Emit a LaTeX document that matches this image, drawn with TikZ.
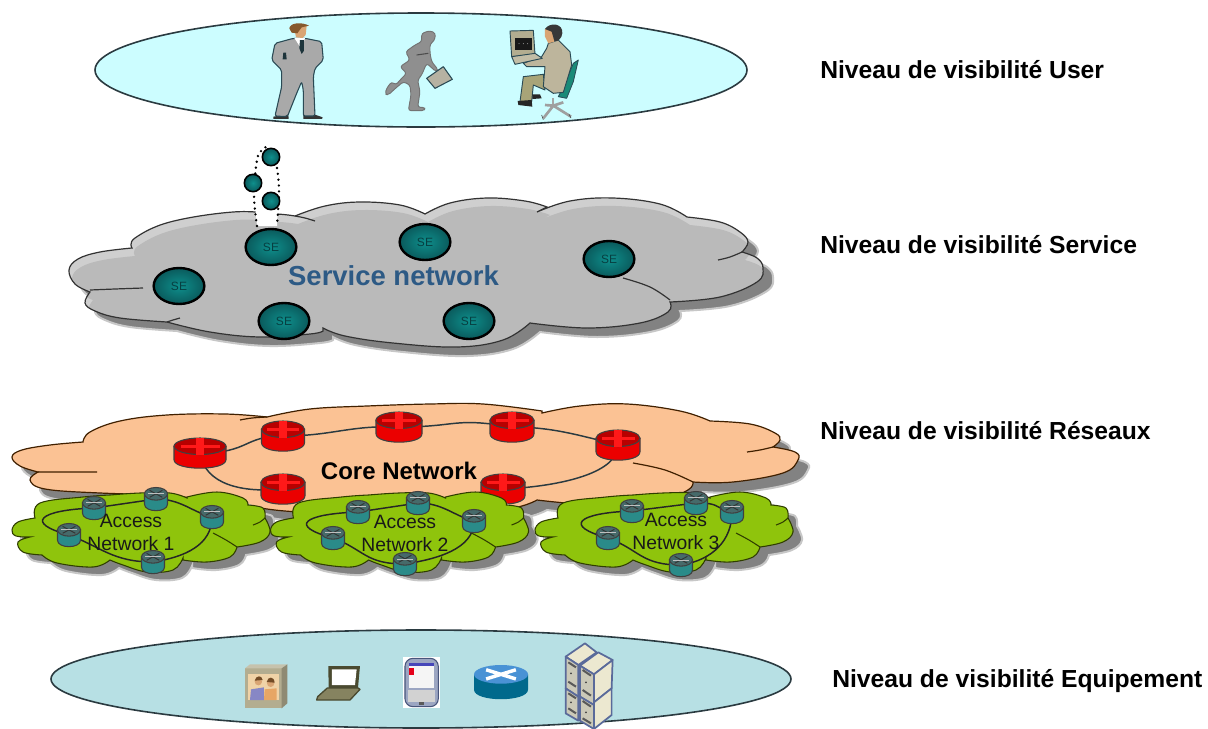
\documentclass[tikz,border=0pt]{standalone}
\usepackage{fontspec}
\setmainfont{Liberation Sans}
\usetikzlibrary{shapes.geometric}
\definecolor{userbg}{HTML}{CCFDFF}
\definecolor{equipbg}{HTML}{B7E0E4}
\definecolor{ringline}{HTML}{2A3A40}
\definecolor{svcfill}{HTML}{BABABA}
\definecolor{svchi}{HTML}{CFCFCF}
\definecolor{shadowgrey}{HTML}{828282}
\definecolor{corefill}{HTML}{FBC294}
\definecolor{greenfill}{HTML}{8FC40C}
\definecolor{greenline}{HTML}{2F3D00}
\definecolor{teal1}{HTML}{0E8F8C}
\definecolor{teal2}{HTML}{0A5A5C}
\definecolor{svctext}{HTML}{2D5A85}
\definecolor{suit}{HTML}{A9A9A9}
\definecolor{suitline}{HTML}{2A4A55}
\definecolor{runner}{HTML}{8F8F8F}
\definecolor{skin}{HTML}{D9A574}
\definecolor{beige}{HTML}{BDB59C}
\definecolor{olivep}{HTML}{A8A478}
\definecolor{chair}{HTML}{1A8A78}
\definecolor{cabtan}{HTML}{B3AD90}
\definecolor{lapdark}{HTML}{4A4A30}
\definecolor{srvline}{HTML}{5A6A9A}
\definecolor{srvface}{HTML}{ECE8D0}
\tikzset{
  lvl/.style={anchor=base west,font=\fontsize{18.5pt}{20pt}\selectfont\bfseries,text=black,inner sep=0pt},
  accesslbl/.style={align=center,font=\fontsize{14.5pt}{17.3pt}\selectfont,text=black!90,inner sep=0pt},
  senode/.style={ellipse,draw=black,line width=1.8pt,inner color=teal1,outer color=teal2,minimum width=38pt,minimum height=27pt,inner sep=0pt,font=\fontsize{9pt}{10pt}\selectfont,text=teal2!70!black},
  dot/.style={circle,draw=black,line width=1.2pt,inner color=teal1,outer color=teal2,minimum size=13pt,inner sep=0pt},
  link/.style={draw=ringline,line width=1.1pt},
  glink/.style={draw=black!85,line width=1.1pt},
  plate/.style={draw=ringline,line width=1.2pt},
  cloudline/.style={draw=black!80,line width=.9pt},
  orangeline/.style={draw=black!75!orange,line width=.9pt},
  grnline/.style={draw=greenline,line width=.8pt},
  suitpart/.style={fill=suit,draw=suitline,line width=.8pt,line join=round,rounded corners=1.5pt},
  softshadow/.style={fill=shadowgrey,draw=shadowgrey!45,line width=1.5pt},
}
\newcommand{\lobe}[1]{-- plot[smooth,tension=.65] coordinates {#1}}
\newcommand{\inner}[1]{plot[smooth,tension=.65] coordinates {#1}}
\def\svcpath{(132,248) \lobe{(132,248)(135,238)(170,222)(233,212)(277,214)(295,216)}
 \lobe{(295,216)(325,206)(360,202)(400,205)(425,214)} \lobe{(425,214)(450,203)(487,198)(525,201)(547,207)}
 \lobe{(537,212)(570,201)(613,198)(660,204)(687,217)} \lobe{(687,217)(720,222)(740,232)(748,242)(742,252)}
 \lobe{(742,252)(757,258)(763,268)(757,282)(720,297)(670,302)} \lobe{(670,302)(668,312)(640,323)(587,328)(530,323)}
 \lobe{(530,323)(503,340)(457,347)(393,343)(345,336)(323,328)} \lobe{(323,331)(310,334)(260,337)(210,332)(167,322)}
 \lobe{(167,322)(120,318)(95,311)(85,303)(90,292)} \lobe{(90,292)(75,284)(69,270)(78,259)(100,252)(132,248)} -- cycle}
\def\corepath{(83,442) \lobe{(83,442)(90,432)(120,421)(167,415)(225,414)(267,417)}
 \lobe{(267,417)(310,409)(367,406)(430,404)(483,404)(542,411)} \lobe{(542,413)(580,406)(627,404)(680,411)(710,421)}
 \lobe{(710,421)(750,424)(775,433)(780,440)(773,447)} \lobe{(773,447)(795,452)(798,460)(783,473)(733,482)(693,482)}
 \lobe{(693,482)(688,490)(660,500)(600,505)(537,500)} \lobe{(537,500)(500,510)(400,513)(300,512)(240,505)(170,495)}
 \lobe{(170,495)(100,493)(45,489)(30,480)(38,472)} \lobe{(38,472)(20,466)(12,457)(22,450)(50,445)(83,442)} -- cycle}
\def\greenpath{(35,518) \lobe{(35,518)(40,503)(83,497)(110,495)} \lobe{(110,495)(140,493)(170,493)(187,498)}
 \lobe{(187,497)(217,492)(243,498)(248,505)} \lobe{(248,505)(263,508)(265,518)} \lobe{(265,518)(270,532)(260,542)(237,547)}
 \lobe{(237,547)(230,557)(207,562)(183,560)} \lobe{(183,558)(173,570)(147,572)(123,565)(110,560)}
 \lobe{(110,560)(93,567)(57,563)(42,555)} \lobe{(42,555)(23,552)(18,542)(30,537)} \lobe{(30,537)(16,536)(12,530)(18,522)(35,518)} -- cycle}
% router: name, (x,y), half width, half height, body, top, mark
\newcommand{\rtr}[7]{%
  \coordinate (#1) at #2;
  \begin{scope}[shift={#2},xscale=#3,yscale=#4]
    \path[fill=#5,draw=black!75,line width=.8pt] (-1,-.45) -- (-1,.45) .. controls (-1,1.2) and (1,1.2) .. (1,.45) -- (1,-.45) -- cycle;
    \path[fill=#6,draw=black!75,line width=.8pt] (0,-.45) ellipse [x radius=1,y radius=.55];
    #7
  \end{scope}}
\newcommand{\redmark}{\fill[red!90!white] (-.17,-1) rectangle (.17,.1); \fill[red!90!white] (-.75,-.55) rectangle (.75,-.35);}
\newcommand{\rred}[4]{\rtr{#1}{#2}{#3}{#4}{red!92!black}{red!72!black}{\redmark}}
\newcommand{\grmark}{\draw[black!80,line width=.7pt] (-.55,-.75) -- (.55,-.15) (-.55,-.15) -- (.55,-.75); \draw[white!75!black,line width=.5pt] (-.7,-.45) -- (.7,-.45);}
\newcommand{\rgr}[2]{\rtr{#1}{#2}{11.5}{11.5}{teal1!75!gray}{teal1!35!gray!80!black}{\grmark}}
\newcommand{\accessnet}[7]{%
  \begin{scope}[shift={(#2,0)}]
    \path[softshadow,shift={(9,8)}] \greenpath;
    \path[fill=greenfill,grnline] \greenpath;
    \draw[grnline] \inner{(213,533)(226,540)(237,547)} \inner{(253,525)(260,522)(265,518)};
  \end{scope}
  \coordinate (#1a) at #3; \coordinate (#1b) at #4; \coordinate (#1c) at #5; \coordinate (#1d) at #6; \coordinate (#1e) at #7;
  \path[glink] (#1d) .. controls +(-45,-12) and +(-55,2) .. (#1a) -- (#1b) .. controls +(25,0) and +(-20,-5) .. (#1c)
     .. controls +(0,28) and +(32,-5) .. (#1e) .. controls +(-40,0) and +(32,12) .. (#1d);
  \rgr{#1ra}{#3}\rgr{#1rb}{#4}\rgr{#1rc}{#5}\rgr{#1rd}{#6}\rgr{#1re}{#7}}
\begin{document}
\begin{tikzpicture}[x=.75pt,y=-.75pt]
\useasboundingbox (0,0) rectangle (1208,729);
\fill[white] (0,0) rectangle (1208,729);
\begin{scope}
\clip (0,0) rectangle (1208,729);
%% ---- User plate
\node[ellipse,plate,fill=userbg,minimum width=489pt,minimum height=85.5pt,inner sep=0pt] (userplate) at (421,70) {};
% standing man
\begin{scope}[shift={(240,10)},scale=.3333]
  \fill[black!80] (100,320) -- (145,313) -- (146,327) -- (100,327) -- cycle (190,315) -- (228,315) -- (248,322) -- (246,327) -- (190,327) -- cycle;
  \path[suitpart] (160,85) -- (105,100) -- (95,150) -- (125,180) -- (125,230) -- (105,318) -- (142,320) -- (170,250) -- (185,215) -- (190,240) -- (190,318) -- (225,318) -- (220,200) -- (225,175) -- (250,150) -- (245,95) -- (195,85) -- cycle;
  \fill[white] (163,84) -- (195,84) -- (185,118) -- cycle;
  \fill[suitline!70!black] (180,90) -- (192,90) -- (192,122) -- (185,132) -- (178,115) -- cycle;
  \fill[suitline!70!black] (130,128) -- (138,128) -- (140,148) -- (128,148) -- cycle;
  \fill[skin] (162,50) -- (200,48) -- (197,75) -- (188,84) -- (168,82) -- cycle;
  \fill[brown!70!black] (148,55) .. controls (150,38) and (185,35) .. (207,47) -- (185,52) -- (172,70) -- (155,68) -- cycle;
\end{scope}
% running man
\begin{scope}[shift={(375,20)},scale=.3333]
  \path[fill=runner,draw=black!55,line width=.7pt,line join=round,rounded corners=2pt] (140,40) -- (165,32) -- (182,40) -- (178,62) -- (165,72) -- (165,100) -- (170,125) -- (190,150) -- (183,155) -- (155,130) -- (140,165) -- (128,180) -- (135,215) -- (128,262) -- (150,262) -- (148,272) -- (100,272) -- (108,225) -- (105,195) -- (85,185) -- (58,208) -- (40,225) -- (30,222) -- (35,205) -- (50,185) -- (62,195) -- (80,175) -- (95,160) -- (75,140) -- (105,120) -- (92,95) -- (120,75) -- (140,65) -- cycle;
  \draw[black!70,line width=.8pt] (125,105) -- (160,100);
  \path[fill=cabtan!70!gray!80,draw=suitline,line width=.8pt,line join=round] (155,175) -- (205,140) -- (232,178) -- (180,205) -- cycle;
\end{scope}
% seated man
\begin{scope}[shift={(495,15)},scale=.3333]
  \draw[gray!70,line width=1.6pt] (175,250) -- (175,275);
  \draw[gray!75,line width=2pt] (145,310) -- (175,272) -- (228,305) (175,272) -- (150,270) (175,272) -- (205,262);
  \draw[black!70,line width=.5pt] (145,314) -- (140,300) (228,309) -- (222,298);
  \path[fill=chair,draw=suitline,line width=.6pt,line join=round] (235,145) -- (250,135) -- (235,200) -- (215,250) -- (190,245) -- (210,205) -- cycle;
  \path[fill=olivep,draw=suitline,line width=.7pt,line join=round] (145,178) -- (85,185) -- (75,260) -- (110,260) -- (115,210) -- (150,225) -- cycle;
  \fill[black!85] (68,258) -- (110,255) -- (112,275) -- (70,270) -- cycle;
  \fill[black!85] (112,238) -- (135,238) -- (140,250) -- (112,252) -- cycle;
  \path[fill=beige,draw=suitline,line width=.7pt,line join=round] (160,85) -- (190,75) -- (225,110) -- (230,150) -- (205,232) -- (175,235) -- (145,215) -- (150,155) -- (95,155) -- (85,145) -- (140,125) -- (155,100) -- cycle;
  \fill[skin] (150,42) -- (172,40) -- (178,80) -- (160,85) -- (150,65) -- cycle;
  \fill[black!78] (150,42) .. controls (165,20) and (205,25) .. (202,55) .. controls (200,70) and (190,80) .. (178,78) -- (170,50) -- cycle;
  \path[fill=cabtan,draw=suitline,line width=.7pt,line join=round] (45,48) -- (115,46) -- (120,118) -- (50,125) -- cycle;
  \fill[black!90] (60,68) -- (110,68) -- (110,105) -- (60,105) -- cycle;
  \fill[white!70!black] (72,86) circle (1.5) (85,86) circle (1.5) (98,86) circle (1.5);
  \path[fill=cabtan!80,draw=suitline,line width=.7pt,line join=round] (50,125) -- (120,115) -- (142,130) -- (60,148) -- cycle;
\end{scope}
%% ---- Service level
\path[softshadow,shift={(10,9)}] \svcpath;
\path[fill=svchi] \svcpath;
\begin{scope}
  \clip \svcpath;
  \fill[svcfill,shift={(3,8)}] \svcpath;
\end{scope}
\path[cloudline] \svcpath;
\draw[cloudline] \inner{(295,216)(305,218)(315,221)} \inner{(742,252)(730,257)(718,260)} \inner{(623,278)(650,287)(670,300)} \inner{(90,290)(115,289)(143,288)} \inner{(167,322)(173,320)(180,318)};
\coordinate (dotA) at (257,226);
\coordinate (dotB) at (277,226);
\fill[white] (dotA) -- (254,195) -- (257,160) -- (262,150) -- (267,146) -- (277,168) -- (279,190) -- (dotB) -- cycle;
\draw[black,line width=2pt,line cap=round,dash pattern=on 0pt off 4.4pt] plot[smooth,tension=.6] coordinates {(dotA)(254,195)(257,160)(262,150)(268,146)};
\draw[black,line width=2pt,line cap=round,dash pattern=on 0pt off 4.4pt] plot[smooth,tension=.6] coordinates {(277,168)(279,190)(dotB)};
\node[dot] (d1) at (271,157) {};
\node[dot] (d2) at (253,183) {};
\node[dot] (d3) at (271,201) {};
\node[senode] (se1) at (271,247) {SE};
\node[senode] (se2) at (179,286) {SE};
\node[senode] (se3) at (284,321) {SE};
\node[senode] (se4) at (425,242) {SE};
\node[senode] (se5) at (609,259) {SE};
\node[senode] (se6) at (469,321) {SE};
\node[font=\fontsize{20.6pt}{22pt}\selectfont\bfseries,text=svctext,inner sep=0pt,anchor=base] (svcname) at (393.5,285) {Service network};
%% ---- Core network
\path[softshadow,shift={(10,10)}] \corepath;
\path[fill=corefill,orangeline] \corepath;
\draw[orangeline] \inner{(267,417)(252,418)(240,420)} \inner{(773,447)(760,450)(747,452)} \inner{(633,463)(665,470)(693,482)} \inner{(38,472)(70,472)(97,472)};
\coordinate (c1) at (200,453); \coordinate (c2) at (283,436); \coordinate (c3) at (399,427);
\coordinate (c4) at (512,427); \coordinate (c5) at (618,445); \coordinate (c6) at (503,489); \coordinate (c7) at (283,489);
\path[link] (c1) .. controls +(50,0) and +(-40,0) .. (c2) .. controls +(50,0) and +(-50,-2) .. (c3)
  .. controls +(60,0) and +(-60,-10) .. (c4) .. controls +(40,0) and +(-40,-10) .. (c5);
\path[link] (c5) .. controls +(0,30) and +(50,-2) .. (c6);
\path[link] (c1) .. controls +(5,32) and +(-40,4) .. (c7);
\rred{rc1}{(200,453)}{26}{15}
\rred{rc2}{(283,436)}{21.5}{15}
\rred{rc3}{(399,427)}{23}{15}
\rred{rc4}{(512,427)}{22}{15}
\rred{rc5}{(618,445)}{22}{15}
\rred{rc6}{(503,489)}{22}{15}
\rred{rc7}{(283,489)}{22}{15}
\node[font=\fontsize{18pt}{20pt}\selectfont\bfseries,text=black,inner sep=0pt,anchor=base] (corename) at (399,479) {Core Network};
%% ---- Access networks
\accessnet{n1}{0}{(94,508)}{(156,499)}{(212,517)}{(69,535)}{(153,562)}
\accessnet{n2}{258.5}{(358,512)}{(418,503)}{(474,521)}{(333,538)}{(405,564)}
\accessnet{n3}{523}{(632,511)}{(696,503)}{(732,512)}{(608,538)}{(681,565)}
\node[accesslbl] (a1) at (131,532) {Access\\Network 1};
\node[accesslbl] (a2) at (405,533) {Access\\Network 2};
\node[accesslbl] (a3) at (676,531) {Access\\Network 3};
%% ---- Equipment plate
\node[ellipse,plate,fill=equipbg,minimum width=555pt,minimum height=73.5pt,inner sep=0pt] (equipplate) at (421,679) {};
% video phone
\begin{scope}[shift={(240,650)},scale=.3333]
  \fill[cabtan] (15,55) rectangle (125,175);
  \fill[cabtan!75] (15,55) -- (30,43) -- (142,43) -- (125,55) -- cycle;
  \fill[cabtan!80!black] (125,55) -- (142,43) -- (142,160) -- (125,175) -- cycle;
  \fill[srvface!80!orange] (25,72) rectangle (118,150);
  \fill[gray!65!blue!70] (30,150) -- (33,118) -- (72,112) -- (72,150) -- cycle;
  \fill[orange!45!brown!70] (72,150) -- (74,118) -- (110,115) -- (110,150) -- cycle;
  \fill[skin] (55,95) circle (11) (92,100) circle (11);
  \fill[brown!60!black] (44,92) .. controls (48,75) and (66,75) .. (68,90) -- cycle (80,96) .. controls (84,78) and (102,78) .. (104,98) -- cycle;
\end{scope}
% laptop
\begin{scope}[shift={(240,650)},scale=.3333]
  \path[fill=lapdark] (265,48) -- (360,48) -- (354,114) -- (266,114) -- cycle;
  \fill[white] (276,58) -- (350,58) -- (345,105) -- (276,105) -- cycle;
  \path[fill=olivep!80!black,draw=lapdark,line width=1pt,line join=round] (262,114) -- (354,114) -- (360,118) -- (330,150) -- (230,150) -- (233,140) -- cycle;
\end{scope}
% phone
\begin{scope}[shift={(220,625)},scale=.3333]
  \fill[white] (548,95) rectangle (660,250);
  \path[fill=srvline!60,draw=srvline!80!black,line width=.8pt,rounded corners=6pt] (555,100) rectangle (655,245);
  \fill[white!92!gray] (567,115) rectangle (642,190);
  \fill[blue!45!gray] (567,115) rectangle (642,122);
  \fill[red!60!purple] (568,130) rectangle (582,150);
  \fill[gray!35] (565,195) rectangle (645,232);
  \fill[black!65] (597,232) rectangle (613,240);
\end{scope}
% blue router
\begin{scope}[shift={(501,682)},xscale=27,yscale=17]
  \fill[blue!25!cyan!55!black] (-1,-.45) -- (-1,.45) .. controls (-1,1.2) and (1,1.2) .. (1,.45) -- (1,-.45) -- cycle;
  \fill[cyan!60!blue!75] (0,-.45) ellipse [x radius=1,y radius=.55];
  \draw[white,line width=2.6pt] (-.55,-.72) -- (.55,-.18) (-.55,-.18) -- (.55,-.72);
\end{scope}
% servers
\begin{scope}[shift={(220,625)},scale=.3333]
  \tikzset{srv/.style={fill=srvface,draw=srvline,line width=1.3pt,line join=round},srvw/.style={fill=srvface!70!gray,draw=srvline,line width=1.3pt,line join=round}}
  \path[srv] (1037,95) -- (1095,55) -- (1130,82) -- (1075,120) -- cycle;
  \path[srvw] (1037,95) -- (1075,120) -- (1075,215) -- (1037,190) -- cycle;
  \path[srvw] (1037,190) -- (1075,215) -- (1075,287) -- (1037,265) -- cycle;
  \path[srv] (1080,122) -- (1135,82) -- (1178,105) -- (1122,148) -- cycle;
  \path[srvw] (1080,122) -- (1122,148) -- (1122,240) -- (1080,215) -- cycle;
  \path[srv] (1122,148) -- (1178,105) -- (1175,190) -- (1122,232) -- cycle;
  \path[srvw] (1080,215) -- (1122,240) -- (1122,312) -- (1080,287) -- cycle;
  \path[srv] (1122,232) -- (1175,190) -- (1175,270) -- (1122,312) -- cycle;
  \fill[black!75] (1053,145) circle (3) (1053,232) circle (3) (1098,172) circle (3) (1098,262) circle (3);
  \draw[black!65,line width=1.5pt] (1045,112) -- (1068,127) (1045,205) -- (1068,220) (1088,135) -- (1113,152) (1088,228) -- (1113,245)
    (1045,170) -- (1068,185) (1045,250) -- (1068,265) (1088,195) -- (1113,212) (1088,280) -- (1113,295);
\end{scope}
\end{scope}
%% ---- Labels
\node[lvl] (l1) at (820,78) {Niveau de visibilité User};
\node[lvl] (l2) at (820,253) {Niveau de visibilité Service};
\node[lvl] (l3) at (820,439) {Niveau de visibilité Réseaux};
\node[lvl] (l4) at (832,687) {Niveau de visibilité Equipement};
\end{tikzpicture}
\end{document}
